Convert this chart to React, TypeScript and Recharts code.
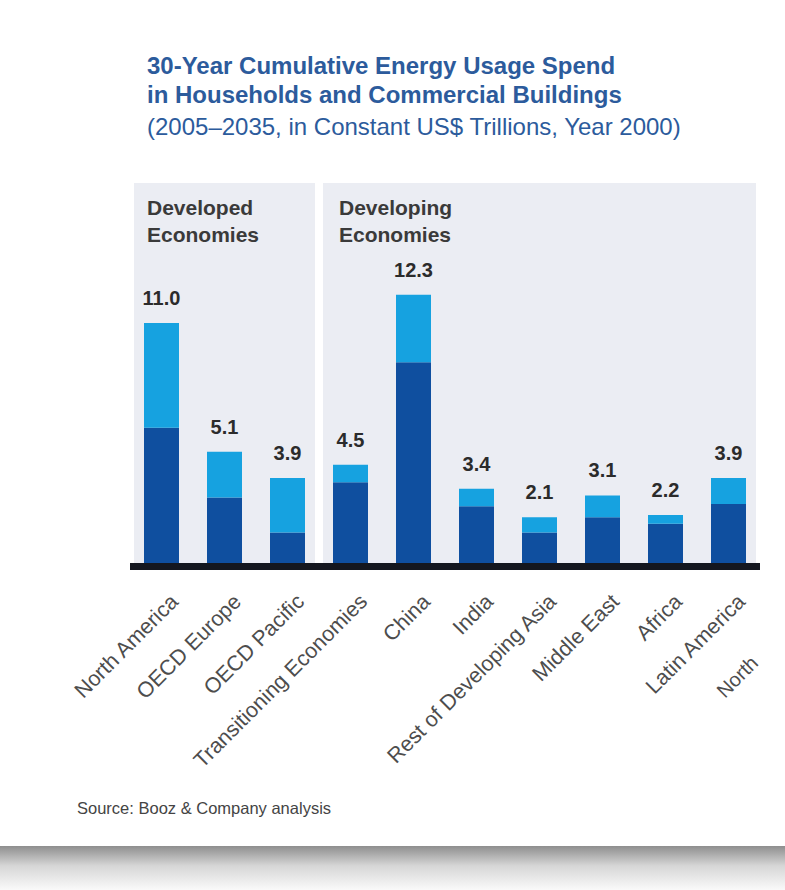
import { BarChart, Bar, XAxis, YAxis, ReferenceArea, LabelList } from "recharts"

const categories = [
  "North America",
  "OECD Europe",
  "OECD Pacific",
  "Transitioning Economies",
  "China",
  "India",
  "Rest of Developing Asia",
  "Middle East",
  "Africa",
  "Latin America",
]
const darkValues = [6.2, 3.0, 1.4, 3.7, 9.2, 2.6, 1.4, 2.1, 1.8, 2.7]
const lightValues = [4.8, 2.1, 2.5, 0.8, 3.1, 0.8, 0.7, 1.0, 0.4, 1.2]
const totals = [11.0, 5.1, 3.9, 4.5, 12.3, 3.4, 2.1, 3.1, 2.2, 3.9]

const titleLines = ["30-Year Cumulative Energy Usage Spend", "in Households and Commercial Buildings"]
const subtitle = "(2005–2035, in Constant US$ Trillions, Year 2000)"
const groupLabels = [
  { lines: ["Developed", "Economies"], left: 147 },
  { lines: ["Developing", "Economies"], left: 339 },
]
const cutLabel = "North"
const source = "Source: Booz & Company analysis"

const DARK = "#0f4f9f"
const LIGHT = "#16a2e0"
const PANEL = "#ebedf3"
const FONT = "'Liberation Sans', Arial, Helvetica, sans-serif"

const data = categories.map((name, i) => ({
  name,
  dark: darkValues[i],
  light: lightValues[i],
  total: totals[i],
}))

function CategoryTick({ x, y, payload }: any) {
  return (
    <g transform={`translate(${x + 18},${y + 25})`}>
      <text textAnchor="end" transform="rotate(-45)" fontSize={21.5} fill="#4d4d4d" fontFamily={FONT}>
        {payload.value}
      </text>
    </g>
  )
}

function TotalLabel({ x, y, width, value }: any) {
  return (
    <text x={x + width / 2} y={y - 18} textAnchor="middle" fontSize={20} fontWeight="bold" fill="#2b2b2b" fontFamily={FONT}>
      {Number(value).toFixed(1)}
    </text>
  )
}

export default function App() {
  return (
    <div style={{ position: "absolute", left: 0, top: 0, width: 785, height: 890, background: "#fff", fontFamily: FONT, overflow: "hidden" }}>
      <div style={{ position: "absolute", left: 147, top: 51, color: "#2c5b9c", fontSize: 24, lineHeight: "29px", whiteSpace: "nowrap" }}>
        {titleLines.map((t) => (
          <div key={t} style={{ fontWeight: "bold" }}>{t}</div>
        ))}
        <div style={{ marginTop: 3 }}>{subtitle}</div>
      </div>

      <div style={{ position: "absolute", left: 0, top: 0 }}>
        <BarChart width={785} height={800} data={data} margin={{ top: 179, right: 25, bottom: 0, left: 130 }} barSize={35}>
          <XAxis dataKey="name" height={230} axisLine={false} tickLine={false} interval={0} tick={<CategoryTick />} />
          <YAxis hide domain={[-0.32, 17.6]} />
          <ReferenceArea x1="North America" x2="OECD Pacific" y1={-0.32} y2={17.6} fill={PANEL} fillOpacity={1} stroke="#fff" strokeWidth={8} />
          <ReferenceArea x1="Transitioning Economies" x2="Latin America" y1={-0.32} y2={17.6} fill={PANEL} fillOpacity={1} stroke="#fff" strokeWidth={8} />
          <ReferenceArea x1="North America" x2="Latin America" y1={-0.32} y2={0} fill="#14171f" fillOpacity={1} />
          <Bar dataKey="dark" stackId="a" fill={DARK} isAnimationActive={false} />
          <Bar dataKey="light" stackId="a" fill={LIGHT} isAnimationActive={false}>
            <LabelList dataKey="total" content={<TotalLabel />} />
          </Bar>
        </BarChart>
      </div>

      {groupLabels.map((g) => (
        <div key={g.lines[0]} style={{ position: "absolute", left: g.left, top: 194, fontSize: 21, lineHeight: "27px", fontWeight: "bold", color: "#3a3a3a" }}>
          {g.lines.map((l) => (
            <div key={l}>{l}</div>
          ))}
        </div>
      ))}

      <span style={{ position: "absolute", left: 727, top: 681, fontSize: 20, lineHeight: "20px", color: "#4d4d4d", whiteSpace: "nowrap", transform: "rotate(-45deg)", transformOrigin: "0 100%" }}>
        {cutLabel}
      </span>

      <div style={{ position: "absolute", left: 77, top: 798, fontSize: 16.5, lineHeight: "20px", color: "#444" }}>{source}</div>

      <div style={{ position: "absolute", left: 0, top: 846, width: 785, height: 44, background: "linear-gradient(#8e8e8e, #d6d6d6 45%, #fafafa)" }} />
    </div>
  )
}
